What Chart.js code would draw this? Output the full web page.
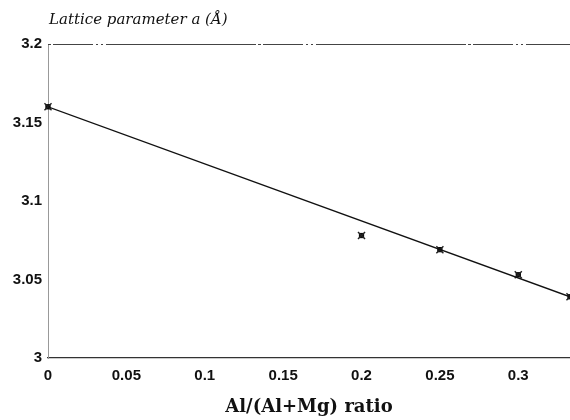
<!DOCTYPE html>
<html>
<head>
<meta charset="utf-8">
<script src="https://cdn.jsdelivr.net/npm/chart.js@4"></script>
<style>
  html, body { margin: 0; padding: 0; background: #fff; }
  #wrap { width: 570px; height: 420px; }
</style>
</head>
<body>
<div id="wrap"><canvas id="lattice-chart" width="570" height="420"></canvas></div>
<script>
// measured points
const ratioX = [0, 0.2, 0.25, 0.3, 0.333];
const latticeA = [3.160, 3.078, 3.069, 3.053, 3.039];
// fitted line end points
const fitX = [0, 0.333];
const fitY = [3.160, 3.039];
// axis ticks
const xTicks = [0, 0.05, 0.1, 0.15, 0.2, 0.25, 0.3];
const yTicks = [3, 3.05, 3.1, 3.15, 3.2];

const yTitle = 'Lattice parameter a (\u00C5)';
const xTitle = 'Al/(Al+Mg) ratio';

document.addEventListener("DOMContentLoaded", function() {
    const ctx = document.getElementById('lattice-chart').getContext('2d');

    // top frame line + horizontal y title
    const framePlugin = {
        id: 'frame',
        beforeDatasetsDraw(chart) {
            const c = chart.ctx;
            const area = chart.chartArea;
            c.save();
            c.strokeStyle = '#444';
            c.lineWidth = 1;
            c.setLineDash([3, 2, 40, 3, 2, 3, 2, 3, 150, 2]);
            c.beginPath();
            c.moveTo(area.left, area.top + 0.5);
            c.lineTo(area.right, area.top + 0.5);
            c.stroke();
            c.restore();
        },
        afterDraw(chart) {
            const c = chart.ctx;
            const area = chart.chartArea;
            c.save();
            c.fillStyle = '#111';
            c.font = 'italic 15px "DejaVu Serif"';
            c.textBaseline = 'middle';
            c.textAlign = 'left';
            c.fillText(yTitle, area.left + 1, 20);
            c.restore();
        }
    };

    const points = ratioX.map((x, i) => ({ x: x, y: latticeA[i] }));

    new Chart(ctx, {
        type: 'scatter',
        data: {
            datasets: [
                {
                    label: 'fit',
                    data: fitX.map((x, i) => ({ x: x, y: fitY[i] })),
                    showLine: true,
                    borderColor: '#111',
                    borderWidth: 1.3,
                    pointRadius: 0
                },
                {
                    label: 'measured',
                    data: points,
                    clip: false,
                    pointStyle: 'crossRot',
                    pointRadius: 5,
                    borderColor: '#222',
                    borderWidth: 1.4
                },
                {
                    label: 'measured-centre',
                    data: points,
                    clip: false,
                    pointStyle: 'rect',
                    pointRadius: 3,
                    borderColor: '#000',
                    borderWidth: 1,
                    backgroundColor: '#000'
                }
            ]
        },
        options: {
            responsive: false,
            animation: false,
            layout: { autoPadding: false, padding: { top: 44, right: 0, left: 0, bottom: 0 } },
            plugins: {
                legend: { display: false },
                tooltip: { enabled: false }
            },
            scales: {
                x: {
                    type: 'linear',
                    min: 0,
                    max: 0.333,
                    afterBuildTicks: s => { s.ticks = xTicks.map(v => ({ value: v })); },
                    afterFit: s => { s.height = 62; },
                    grid: { display: false, drawTicks: false },
                    border: { display: true, color: '#333', width: 1.3, dash: [80, 3, 30, 2] },
                    ticks: {
                        padding: 9,
                        color: '#111',
                        font: { family: 'Liberation Sans', size: 15, weight: 'bold' },
                        callback: v => String(v)
                    },
                    title: {
                        display: true,
                        text: xTitle,
                        color: '#111',
                        font: { family: 'DejaVu Serif', size: 18, weight: 'bold' },
                        padding: { top: 0, bottom: 2 }
                    }
                },
                y: {
                    min: 3,
                    max: 3.2,
                    afterBuildTicks: s => { s.ticks = yTicks.map(v => ({ value: v })); },
                    afterFit: s => { s.width = 48; },
                    grid: { display: false, drawTicks: false },
                    border: { display: true, color: '#999', width: 1, dash: [34, 6] },
                    ticks: {
                        padding: 6,
                        color: '#111',
                        font: { family: 'Liberation Sans', size: 15, weight: 'bold' },
                        callback: v => String(v)
                    }
                }
            }
        },
        plugins: [framePlugin]
    });
});
</script>
</body>
</html>
